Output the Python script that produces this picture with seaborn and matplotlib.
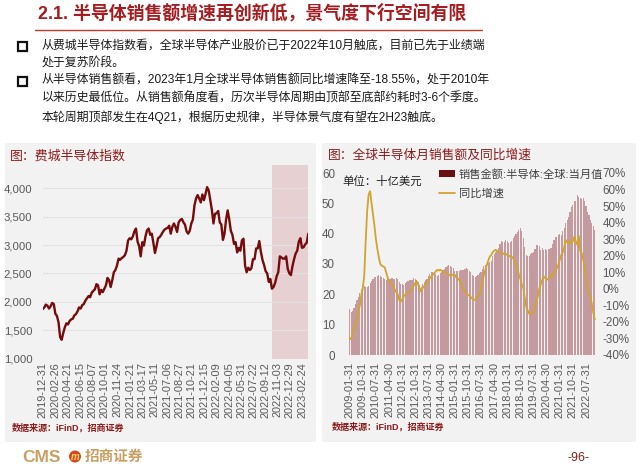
import numpy as np
import pandas as pd
import matplotlib
matplotlib.use("Agg")
import matplotlib.pyplot as plt
import seaborn as sns
from matplotlib.patches import Rectangle, Circle, Patch
from matplotlib.lines import Line2D

# ---------------- data ----------------
# Philadelphia Semiconductor Index, weekly readings starting 2019-12-31
sox_start = "2019-12-31"
sox = [
    1870,
    1900, 1950, 1930, 1880, 1920, 1980, 1960, 1790, 1750, 1640, 1380, 1330, 1450,
    1550, 1620, 1600, 1660, 1690, 1700, 1760, 1780, 1830, 1900, 1880, 1940, 1960,
    2020, 2060, 2100, 2080, 2160, 2190, 2220, 2310, 2290, 2130, 2210, 2170, 2230,
    2290, 2420, 2380, 2260, 2380, 2520, 2560, 2640, 2760, 2740, 2770, 2790, 2820,
    # 2021
    2900, 3080, 3120, 3100, 3150, 3240, 3290, 3060, 2980, 2800, 3050, 2990, 3150,
    3260, 3290, 3180, 3200, 3040, 2860, 2980, 3120, 3140, 3180, 3230, 3270, 3290,
    3300, 3340, 3200, 3320, 3380, 3320, 3230, 3400, 3440, 3460, 3400, 3360, 3240,
    3200, 3250, 3380, 3450, 3700, 3820, 3880, 3820, 3750, 3890, 3790, 3900, 4020,
    # 2022
    3960, 3790, 3620, 3380, 3550, 3560, 3600, 3400, 3360, 3090, 3200, 3450, 3610,
    3450, 3250, 3180, 3020, 3050, 2870, 2950, 2900, 3080, 3110, 2640, 2520, 2600,
    2560, 2590, 2750, 2750, 2940, 2940, 3070, 2880, 2740, 2650, 2540, 2500, 2350,
    2400, 2230, 2260, 2330, 2450, 2520, 2800, 2780, 2760, 2760, 2800, 2580, 2500,
    # 2023
    2470, 2630, 2750, 2850, 2900, 3060, 3120, 2950, 2960, 3010, 3040, 3200,
]
sox_xlabels = [
    "2019-12-31", "2020-02-26", "2020-04-21", "2020-06-15", "2020-08-07",
    "2020-10-01", "2020-11-24", "2021-01-21", "2021-03-17", "2021-05-11",
    "2021-07-06", "2021-08-27", "2021-10-21", "2021-12-15", "2022-02-09",
    "2022-04-05", "2022-05-31", "2022-07-22", "2022-09-12", "2022-11-03",
    "2022-12-29", "2023-02-24",
]
sox_yticks = [1000, 1500, 2000, 2500, 3000, 3500, 4000]
sox_ylabels = ["1,000", "1,500", "2,000", "2,500", "3,000", "3,500", "4,000"]
shade_start = "2022-10-13"

# Global semiconductor monthly sales (bn USD) and YoY (%), 2009-01 .. 2023-01
month_start = "2009-01-31"
sales = [
    15.2, 14.2, 14.5, 15.6, 16.8, 18.0, 19.2, 20.4, 21.8, 22.3, 22.6, 22.5,
    22.5, 22.9, 23.8, 24.5, 25.2, 25.8, 25.6, 25.9, 26.3, 26.0, 25.6, 25.3,
    25.0, 24.8, 25.4, 25.0, 25.0, 25.3, 25.0, 25.1, 25.5, 25.0, 24.0, 23.4,
    23.3, 23.1, 23.8, 24.2, 24.5, 24.8, 24.6, 24.8, 25.4, 25.0, 24.6, 24.2,
    23.0, 22.5, 23.4, 24.0, 24.6, 25.2, 26.0, 26.8, 27.5, 27.4, 27.2, 26.6,
    26.1, 26.3, 26.9, 27.5, 28.0, 28.5, 28.9, 29.3, 29.8, 29.4, 29.0, 28.7,
    27.8, 27.6, 27.8, 27.6, 27.9, 28.1, 28.0, 28.3, 28.6, 28.3, 27.8, 27.5,
    26.4, 25.9, 25.8, 26.1, 26.4, 26.9, 27.4, 28.4, 29.2, 29.6, 30.1, 30.4,
    30.6, 31.0, 32.5, 33.3, 33.8, 34.6, 35.2, 36.5, 37.7, 37.4, 37.2, 38.0,
    37.6, 36.8, 37.1, 37.6, 38.6, 39.3, 39.9, 40.5, 41.3, 41.8, 41.0, 38.5,
    35.5, 33.0, 32.5, 32.5, 33.2, 33.6, 34.0, 35.0, 36.2, 36.3, 35.9, 34.5,
    35.2, 34.5, 35.0, 34.6, 35.0, 34.8, 35.2, 36.5, 37.8, 38.9, 39.0, 39.5,
    40.0, 39.6, 41.0, 41.8, 43.6, 44.5, 45.4, 47.2, 48.9, 49.5, 50.7, 50.9,
    52.8, 52.0, 51.6, 51.5, 51.8, 50.8, 49.0, 47.0, 46.0, 44.5, 43.5, 42.5,
    41.3,
]
yoy = [
    -30.0, -30.5, -27.0, -24.0, -21.5, -18.0, -13.5, -10.0, -3.5, 0.5, 8.0, 29.0,
    47.0, 57.0, 59.0, 52.0, 45.0, 38.0, 30.0, 24.0, 19.0, 15.0, 14.0, 13.5,
    13.0, 10.0, 7.0, 4.5, 4.0, 2.5, 1.0, -0.7, -2.0, -3.5, -7.0, -7.8,
    -6.5, -4.5, -3.7, -3.0, -2.0, -1.7, -1.0, 0.5, 2.0, 3.5, 4.4, 2.5,
    0.0, -1.7, 0.5, 1.5, 2.5, 3.5, 5.0, 6.4, 7.5, 8.5, 9.5, 10.5,
    11.5, 11.0, 11.5, 11.0, 10.5, 10.0, 9.5, 9.5, 8.5, 8.0, 8.5, 8.4,
    8.4, 7.0, 6.5, 5.4, 4.0, 2.0, 0.0, -1.5, -2.6, -3.7, -4.0, -5.0,
    -6.0, -6.7, -6.5, -5.5, -4.7, -3.0, 0.0, 4.0, 8.4, 11.5, 14.5, 17.0,
    19.5, 20.5, 22.0, 23.0, 23.6, 23.0, 22.5, 22.0, 21.6, 21.0, 21.5, 21.0,
    20.5, 20.0, 19.5, 19.5, 18.5, 17.0, 14.5, 12.5, 8.4, 6.0, 2.5, 0.4,
    -5.5, -10.8, -13.0, -15.0, -15.8, -15.0, -13.5, -10.8, -7.5, -4.5, 0.4, 3.0,
    5.5, 7.4, 6.5, 5.4, 6.0, 7.0, 8.4, 7.5, 9.0, 11.0, 12.5, 14.5,
    17.5, 20.5, 22.0, 25.0, 29.6, 28.0, 27.6, 29.0, 27.6, 29.0, 31.6, 28.5,
    26.6, 32.0, 23.0, 21.6, 18.0, 13.0, 7.5, 0.1, -3.0, -4.6, -9.2, -14.7,
    -18.55,
]
sales_xlabels = [
    "2009-01-31", "2009-10-31", "2010-07-31", "2011-04-30", "2012-01-31",
    "2012-10-31", "2013-07-31", "2014-04-30", "2015-01-31", "2015-10-31",
    "2016-07-31", "2017-04-30", "2018-01-31", "2018-10-31", "2019-07-31",
    "2020-04-30", "2021-01-31", "2021-10-31", "2022-07-31",
]
sales_yticks = [0, 10, 20, 30, 40, 50, 60]
yoy_yticks = [-40, -30, -20, -10, 0, 10, 20, 30, 40, 50, 60, 70]

title = "2.1. 半导体销售额增速再创新低，景气度下行空间有限"
bullet_lines = [
    "从费城半导体指数看，全球半导体产业股价已于2022年10月触底，目前已先于业绩端",
    "处于复苏阶段。",
    "从半导体销售额看，2023年1月全球半导体销售额同比增速降至-18.55%，处于2010年",
    "以来历史最低位。从销售额角度看，历次半导体周期由顶部至底部约耗时3-6个季度。",
    "本轮周期顶部发生在4Q21，根据历史规律，半导体景气度有望在2H23触底。",
]
left_title = "图：费城半导体指数"
right_title = "图：全球半导体月销售额及同比增速"
source_text = "数据来源：iFinD，招商证券"
unit_text = "单位：十亿美元"
legend_labels = ["销售金额:半导体:全球:当月值", "同比增速"]

# ---------------- style ----------------
sns.set_theme(style="white")
plt.rcParams["font.family"] = ["Liberation Sans", "Noto Sans CJK SC", "DejaVu Sans"]
plt.rcParams["axes.unicode_minus"] = False

DARKRED = "#8e1b1b"
TICK = "#595959"
GOLD = "#d2a32f"
PANEL = "#f2f2f2"

fig = plt.figure(figsize=(6.4, 4.68), dpi=100)
fig.patch.set_facecolor("white")

# background / decoration layer in pixel coordinates
bg = fig.add_axes([0, 0, 1, 1], zorder=-10)
bg.set_xlim(0, 640)
bg.set_ylim(468, 0)
bg.axis("off")
bg.set_facecolor("none")

bg.add_patch(Rectangle((5, 143), 311, 299, facecolor=PANEL, edgecolor="none"))
bg.add_patch(Rectangle((322, 143), 314, 299, facecolor=PANEL, edgecolor="none"))

bg.text(38, 13.5, title, fontsize=12.9, fontweight="bold", color="#a51d20",
        ha="left", va="center")
bg.plot([35, 482], [29.5, 29.5], color="#c0392b", lw=1.0)

line_y = [46, 63, 81, 99, 117]
for txt, yy in zip(bullet_lines, line_y):
    bg.text(42, yy, txt, fontsize=8.6, color="#1a1a1a", ha="left", va="center")
for yy in (46, 81):
    bg.add_patch(Rectangle((18, yy - 4.5), 9, 9, fill=False, lw=1.6,
                           edgecolor="#111111"))

bg.text(10, 156, left_title, fontsize=9.3, color=DARKRED, ha="left", va="center")
bg.text(328, 156, right_title, fontsize=9.2, color=DARKRED, ha="left", va="center")
bg.text(12, 428, source_text, fontsize=6.5, fontweight="bold", color=DARKRED,
        ha="left", va="center")
bg.text(332, 427, source_text, fontsize=6.5, fontweight="bold", color=DARKRED,
        ha="left", va="center")
bg.text(342, 181, unit_text, fontsize=8.2, color="#222222", ha="left", va="center")

# footer
bg.text(22, 457, "CMS", fontsize=12.5, fontweight="bold", color="#c9a063",
        ha="left", va="center")
bg.add_patch(Circle((75, 456.5), 6, facecolor="#d9481c", edgecolor="none"))
bg.text(75, 456.5, "m", fontsize=7, fontweight="bold", style="italic",
        color="#f6d36b", ha="center", va="center")
bg.text(85, 457, "招商证券", fontsize=10.5, fontweight="bold", color="#c9a063",
        ha="left", va="center")
bg.text(579, 458, "-96-", fontsize=9, color="#8b2020", ha="center", va="center")

# ---------------- left chart ----------------
dates = pd.date_range(sox_start, periods=len(sox), freq="7D")
axL = fig.add_axes([42.7 / 640, 1 - 358.5 / 468, (308.3 - 42.7) / 640,
                    (358.5 - 165) / 468])
axL.set_facecolor("none")
axL.axvspan(pd.Timestamp(shade_start), dates[-1], color="#e6d0d2", lw=0, zorder=0)
sns.lineplot(x=dates, y=sox, ax=axL, color="#760b0b", lw=1.7, zorder=3)
axL.set_xlim(dates[0], dates[-1])
axL.set_ylim(1000, 4410)
axL.set_yticks(sox_yticks)
axL.set_yticklabels(sox_ylabels)
axL.set_xticks(pd.to_datetime(sox_xlabels))
axL.set_xticklabels(sox_xlabels, rotation=90)
axL.grid(axis="y", color="#e1e1e1", lw=0.8)
axL.grid(axis="x", visible=False)
axL.set_axisbelow(True)
axL.tick_params(axis="y", length=0, pad=7.5, labelsize=8.2, labelcolor=TICK)
axL.tick_params(axis="x", length=0, pad=2.5, labelsize=7.9, labelcolor=TICK)
axL.set_xlabel("")
axL.set_ylabel("")
for s in axL.spines.values():
    s.set_visible(False)

# ---------------- right chart ----------------
months = list(pd.date_range(month_start, periods=len(sales), freq="ME").strftime("%Y-%m-%d"))
idx = np.arange(len(sales))
axR = fig.add_axes([346 / 640, 1 - 355 / 468, 251 / 640, 182 / 468])
axR.set_facecolor("none")
sns.barplot(x=idx, y=sales, ax=axR, color="#c49a9e", width=0.78,
            native_scale=True, errorbar=None, saturation=1, linewidth=0)
axR.set_xlim(-2.5, 169.5)
axR.set_ylim(0, 60)
axR.set_yticks(sales_yticks)
axR.set_yticklabels([str(v) for v in sales_yticks])
axR.set_xticks([months.index(l) for l in sales_xlabels])
axR.set_xticklabels(sales_xlabels, rotation=90)
axR.tick_params(axis="y", length=0, pad=8, labelsize=8.4, labelcolor=TICK)
axR.tick_params(axis="x", length=0, pad=5, labelsize=7.9, labelcolor=TICK)
axR.set_xlabel("")
axR.set_ylabel("")
axR.grid(False)
for s in axR.spines.values():
    s.set_visible(False)

ax2 = axR.twinx()
ax2.set_facecolor("none")
sns.lineplot(x=idx, y=yoy, ax=ax2, color=GOLD, lw=1.3)
ax2.set_xlim(-2.5, 169.5)
ax2.set_ylim(-40, 70)
ax2.set_yticks(yoy_yticks)
ax2.set_yticklabels([f"{v}%" for v in yoy_yticks])
ax2.tick_params(axis="y", length=0, pad=4, labelsize=8.4, labelcolor=TICK)
ax2.set_ylabel("")
ax2.grid(False)
for s in ax2.spines.values():
    s.set_visible(False)

handles = [Patch(facecolor="#6b0f0f", edgecolor="none"),
           Line2D([], [], color=GOLD, lw=1.3)]
ax2.legend(handles, legend_labels, loc="upper left",
           bbox_to_anchor=(439 / 640, 1 - 169 / 468), bbox_transform=fig.transFigure,
           frameon=False, fontsize=8.1, handlelength=1.45, handleheight=0.6,
           handletextpad=0.3, labelspacing=0.75, borderpad=0, borderaxespad=0,
           labelcolor="#404040")

fig.savefig("out.png", dpi=100)
